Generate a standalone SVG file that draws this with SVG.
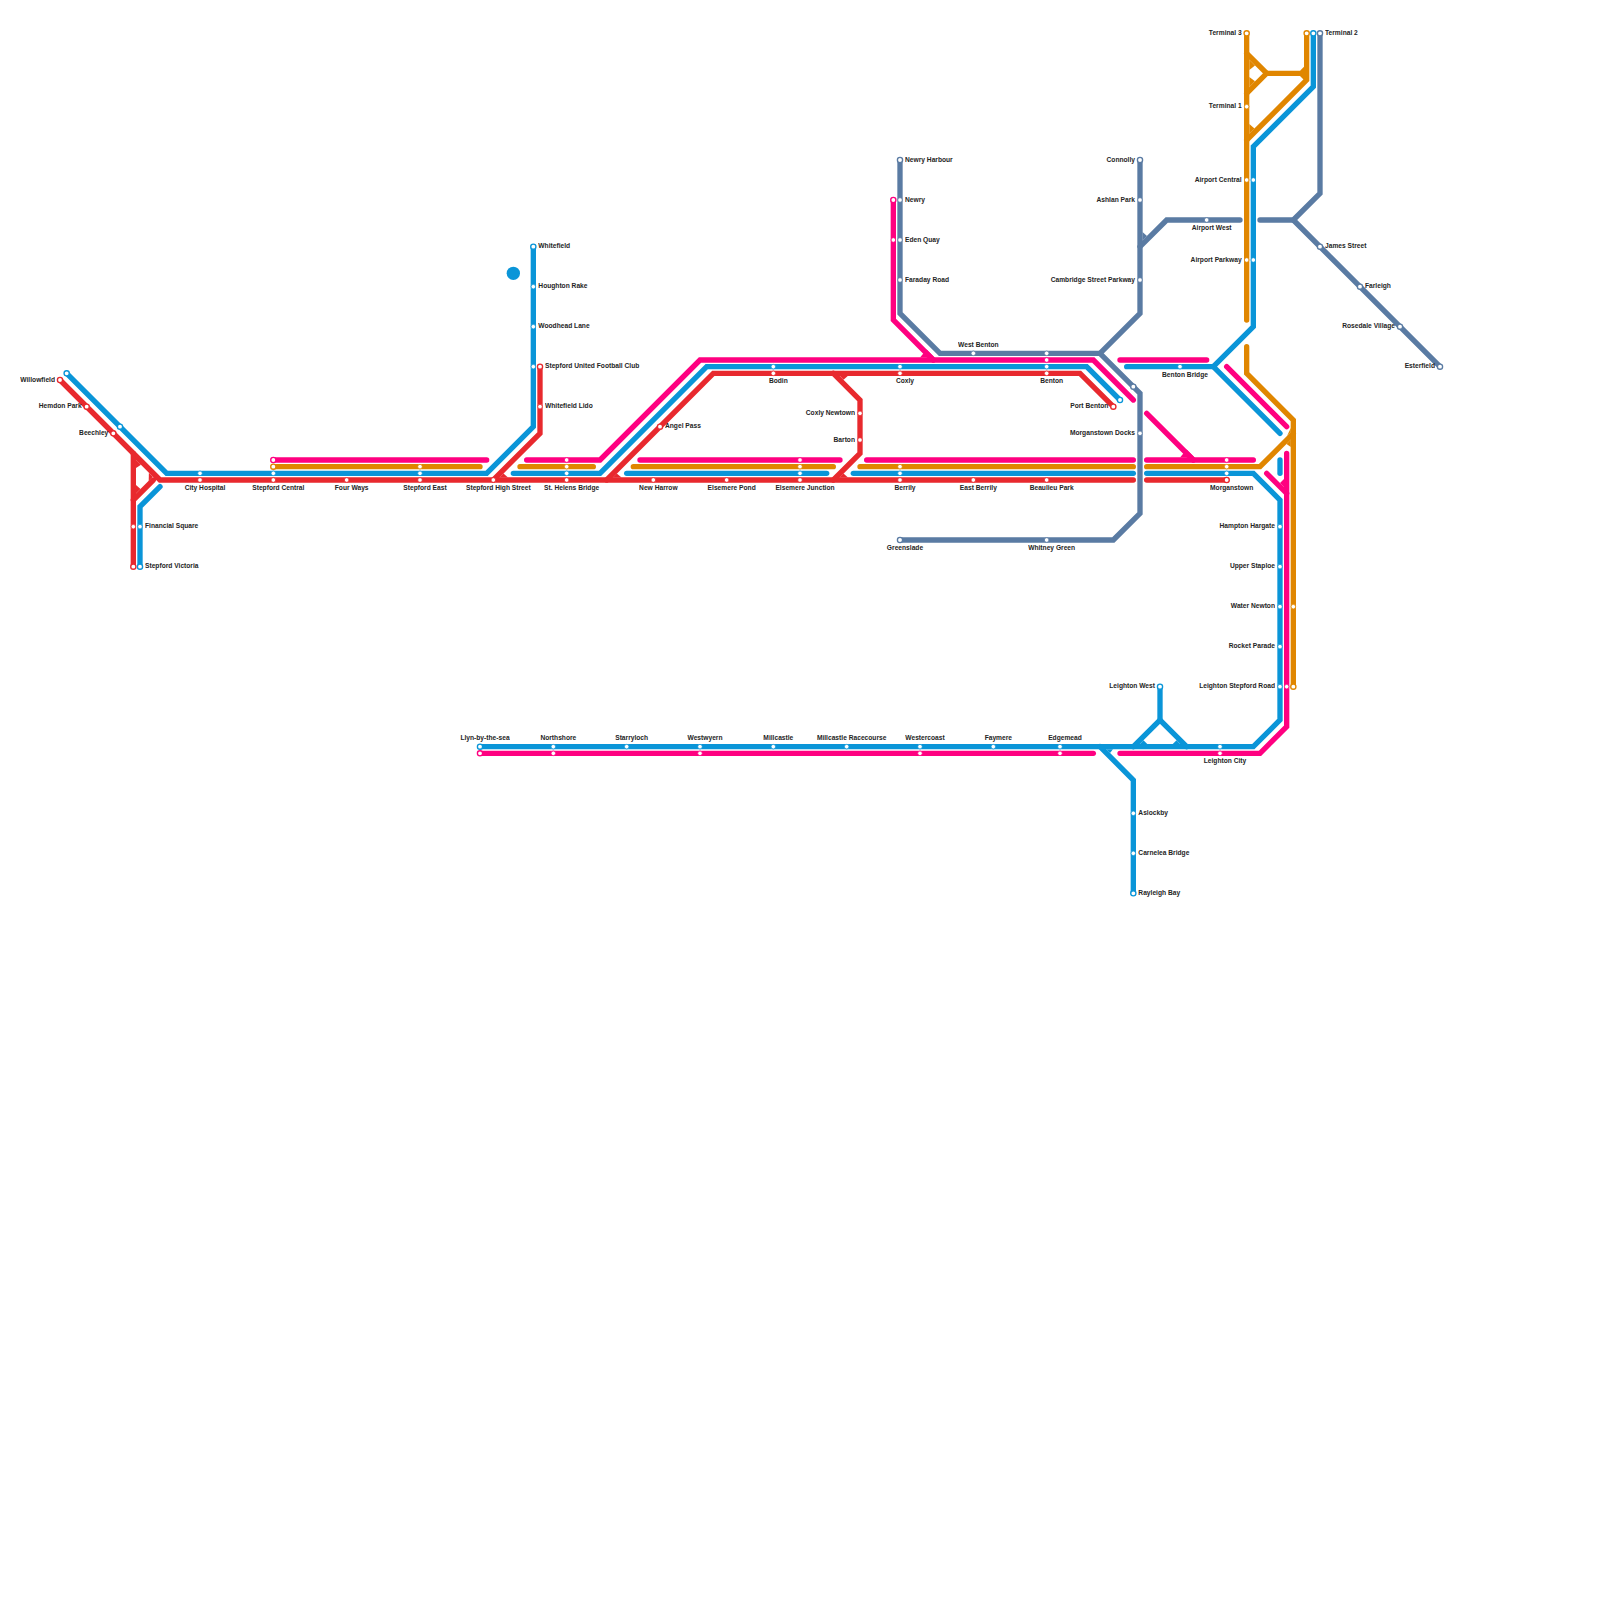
<svg xmlns="http://www.w3.org/2000/svg" width="1600" height="1600" viewBox="0 0 1600 1600">
<style>
text{font-family:"Liberation Sans",Arial,sans-serif;font-size:6.67px;fill:#222;font-weight:700;opacity:.99}
.e{text-anchor:end}.m{text-anchor:middle}
.ln{fill:none;stroke-width:5.33;stroke-linecap:round;stroke-linejoin:miter}
.R{stroke:#e8292e}.B{stroke:#0a95d8}.P{stroke:#ff0080}.O{stroke:#e08600}.S{stroke:#5a7ba3}
.fR{fill:#e8292e}.fB{fill:#0a95d8}.fP{fill:#ff0080}.fO{fill:#e08600}.fS{fill:#5a7ba3}
circle.s{fill:#fff;stroke-width:.8}
circle.t{fill:#fff;stroke-width:1.35}
</style>
<rect width="1600" height="1600" fill="#fff"/>
<g id="connectors">
<path class="ln S" d="M900 160V313.33L940 353.33H1100L1140 393.33V513.33L1113.33 540H900"/>
<path class="ln S" d="M1140 160V313.33L1100 353.33"/>
<path class="ln S" d="M1140 246.67L1166.67 220H1240"/>
<path class="ln S" d="M1260 220H1293.33L1320 193.33V33.33"/>
<path class="ln S" d="M1293.33 220L1440 366.67"/>
<path class="ln R" d="M60 380L160 480H1133.33"/>
<path class="ln R" d="M133.33 566.67V453.33"/>
<path class="ln R" d="M133.33 500L153.33 480"/>
<path class="ln R" d="M540 366.67V433.33L493.33 480"/>
<path class="ln R" d="M606.67 480L713.33 373.33H1080L1113.33 406.67"/>
<path class="ln R" d="M833.33 373.33L860 400V453.33L833.33 480"/>
<path class="ln R" d="M1146.67 480H1226.67"/>
<path class="ln B" d="M66.67 373.33L166.67 473.33H486.67L533.33 426.67V246.67"/>
<path class="ln B" d="M160 486.67L140 506.67V566.67"/>
<path class="ln B" d="M513.33 473.33H600L706.67 366.67H1086.67L1120 400"/>
<path class="ln B" d="M626.67 473.33H826.67"/>
<path class="ln B" d="M853.33 473.33H1133.33"/>
<path class="ln B" d="M1146.67 473.33H1253.33L1280 500V720L1253.33 746.67H480"/>
<path class="ln B" d="M1126.67 366.67H1213.33L1253.33 326.67V146.67L1313.33 86.67V33.33"/>
<path class="ln B" d="M1213.33 366.67L1280 433.33"/>
<path class="ln B" d="M1280 460V473.33"/>
<path class="ln B" d="M1100 746.67L1133.33 780V893.33"/>
<path class="ln B" d="M1133.33 746.67L1160 720L1186.67 746.67"/>
<path class="ln B" d="M1160 686.67V720"/>
<path class="ln P" d="M273.33 460H486.67"/>
<path class="ln P" d="M526.67 460H600L700 360H1093.33L1133.33 400"/>
<path class="ln P" d="M640 460H840"/>
<path class="ln P" d="M866.67 460H1133.33"/>
<path class="ln P" d="M1146.67 460H1253.33"/>
<path class="ln P" d="M1146.67 413.33L1193.33 460"/>
<path class="ln P" d="M1120 360H1206.67"/>
<path class="ln P" d="M893.33 200V320L933.33 360"/>
<path class="ln P" d="M1226.67 366.67L1286.67 426.67"/>
<path class="ln P" d="M1286.67 453.33V726.67L1260 753.33H1120"/>
<path class="ln P" d="M1266.67 473.33L1286.67 493.33"/>
<path class="ln P" d="M480 753.33H1093.33"/>
<path class="ln O" d="M273.33 466.67H480"/>
<path class="ln O" d="M520 466.67H593.33"/>
<path class="ln O" d="M633.33 466.67H833.33"/>
<path class="ln O" d="M860 466.67H1133.33"/>
<path class="ln O" d="M1146.67 466.67H1260L1293.33 433.33"/>
<path class="ln O" d="M1246.67 346.67V373.33L1293.33 420V686.67"/>
<path class="ln O" d="M1246.67 33.33V320"/>
<path class="ln O" d="M1246.67 53.33L1266.67 73.33L1246.67 93.33"/>
<path class="ln O" d="M1266.67 73.33H1300"/>
<path class="ln O" d="M1306.67 33.33V80L1246.67 140"/>
<polygon class="fR" points="136,459.8 136,468 141,464.8"/>
<polygon class="fR" points="136,493.6 136,485 140.5,489.1"/>
<polygon class="fR" points="152.9,476.7 148.9,472.7 148.7,480.9"/>
<polygon class="fR" points="499.5,477.5 503.5,473.6 508,477.5"/>
<polygon class="fR" points="612.8,477.5 616.8,473.6 621.5,477.5"/>
<polygon class="fR" points="839.5,477.5 843.5,473.6 848,477.5"/>
<polygon class="fR" points="839.6,375.8 848,375.8 843.5,379.7"/>
<polygon class="fP" points="920,357.5 926.67,349.6 934.6,357.5"/>
<polygon class="fP" points="1180,457.5 1186.67,449.6 1194.6,457.5"/>
<polygon class="fP" points="1284,486.9 1284,479 1280,482.9"/>
<polygon class="fB" points="1106.3,749.2 1113,749.2 1110,752.9"/>
<polygon class="fB" points="1139.6,744.2 1147.5,744.2 1143.5,740.2"/>
<polygon class="fB" points="1180.4,744.2 1172.5,744.2 1176.5,740.2"/>
<polygon class="fS" points="1142.5,232 1142.5,240.4 1147,236"/>
<polygon class="fO" points="1290.8,439.6 1290.8,447 1286.5,443.9"/>
<polygon class="fO" points="1290.8,428 1290.8,432.2 1287,435.9"/>
<polygon class="fO" points="1249.33,59.8 1249.33,70 1255,65.4"/>
<polygon class="fO" points="1249.33,86.9 1249.33,77 1255,81.2"/>
<polygon class="fO" points="1249.33,124 1249.33,133.6 1254.5,128.4"/>
<polygon class="fO" points="1300,70.67 1304,66.67 1304,80 1300,76"/>
</g>
<circle id="badge" cx="513.33" cy="273.33" r="6.67" fill="#0a95d8"/>
<g id="willowfield"><circle class="t R" cx="60" cy="380" r="2.6"/><circle class="t B" cx="66.67" cy="373.33" r="2.6"/><text class="e" x="55" y="381.5">Willowfield</text></g>
<g id="hemdon-park"><circle class="t R" cx="86.67" cy="406.67" r="2.6"/><text class="e" x="81.67" y="408">Hemdon Park</text></g>
<g id="beechley"><circle class="t R" cx="113.33" cy="433.33" r="2.6"/><circle class="t B" cx="120" cy="426.67" r="2.6"/><text class="e" x="108.33" y="435">Beechley</text></g>
<g id="financial-square"><circle class="s R" cx="133.33" cy="526.67" r="2.3"/><circle class="s B" cx="140" cy="526.67" r="2.3"/><text x="145" y="528">Financial Square</text></g>
<g id="stepford-victoria"><circle class="t R" cx="133.33" cy="566.67" r="2.6"/><circle class="t B" cx="140" cy="566.67" r="2.6"/><text x="145" y="568">Stepford Victoria</text></g>
<g id="city-hospital"><circle class="s B" cx="200" cy="473.33" r="2.3"/><circle class="s R" cx="200" cy="480" r="2.3"/><text class="m" x="205" y="490">City Hospital</text></g>
<g id="stepford-central"><circle class="t P" cx="273.33" cy="460" r="2.6"/><circle class="t O" cx="273.33" cy="466.67" r="2.6"/><circle class="s B" cx="273.33" cy="473.33" r="2.3"/><circle class="s R" cx="273.33" cy="480" r="2.3"/><text class="m" x="278.33" y="490">Stepford Central</text></g>
<g id="four-ways"><circle class="s R" cx="346.67" cy="480" r="2.3"/><text class="m" x="351.67" y="490">Four Ways</text></g>
<g id="stepford-east"><circle class="s O" cx="420" cy="466.67" r="2.3"/><circle class="s B" cx="420" cy="473.33" r="2.3"/><circle class="s R" cx="420" cy="480" r="2.3"/><text class="m" x="425" y="490">Stepford East</text></g>
<g id="stepford-high-street"><circle class="s R" cx="493.33" cy="480" r="2.3"/><text class="m" x="498.33" y="490">Stepford High Street</text></g>
<g id="st-helens-bridge"><circle class="s P" cx="566.67" cy="460" r="2.3"/><circle class="s O" cx="566.67" cy="466.67" r="2.3"/><circle class="s B" cx="566.67" cy="473.33" r="2.3"/><circle class="s R" cx="566.67" cy="480" r="2.3"/><text class="m" x="571.67" y="490">St. Helens Bridge</text></g>
<g id="new-harrow"><circle class="s R" cx="653.33" cy="480" r="2.3"/><text class="m" x="658.33" y="490">New Harrow</text></g>
<g id="elsemere-pond"><circle class="s R" cx="726.67" cy="480" r="2.3"/><text class="m" x="731.67" y="490">Elsemere Pond</text></g>
<g id="elsemere-junction"><circle class="s P" cx="800" cy="460" r="2.3"/><circle class="s O" cx="800" cy="466.67" r="2.3"/><circle class="s B" cx="800" cy="473.33" r="2.3"/><circle class="s R" cx="800" cy="480" r="2.3"/><text class="m" x="805" y="490">Elsemere Junction</text></g>
<g id="berrily"><circle class="s O" cx="900" cy="466.67" r="2.3"/><circle class="s B" cx="900" cy="473.33" r="2.3"/><circle class="s R" cx="900" cy="480" r="2.3"/><text class="m" x="905" y="490">Berrily</text></g>
<g id="east-berrily"><circle class="s R" cx="973.33" cy="480" r="2.3"/><text class="m" x="978.33" y="490">East Berrily</text></g>
<g id="beaulieu-park"><circle class="s R" cx="1046.67" cy="480" r="2.3"/><text class="m" x="1051.67" y="490">Beaulieu Park</text></g>
<g id="morganstown"><circle class="s P" cx="1226.67" cy="460" r="2.3"/><circle class="s O" cx="1226.67" cy="466.67" r="2.3"/><circle class="s B" cx="1226.67" cy="473.33" r="2.3"/><circle class="t R" cx="1226.67" cy="480" r="2.6"/><text class="m" x="1231.67" y="490">Morganstown</text></g>
<g id="whitefield"><circle class="t B" cx="533.33" cy="246.67" r="2.6"/><text x="538.33" y="248">Whitefield</text></g>
<g id="houghton-rake"><circle class="s B" cx="533.33" cy="286.67" r="2.3"/><text x="538.33" y="288">Houghton Rake</text></g>
<g id="woodhead-lane"><circle class="s B" cx="533.33" cy="326.67" r="2.3"/><text x="538.33" y="328">Woodhead Lane</text></g>
<g id="stepford-united"><circle class="s B" cx="533.33" cy="366.67" r="2.3"/><circle class="t R" cx="540" cy="366.67" r="2.6"/><text x="545" y="368">Stepford United Football Club</text></g>
<g id="whitefield-lido"><circle class="s R" cx="540" cy="406.67" r="2.3"/><text x="545" y="408">Whitefield Lido</text></g>
<g id="angel-pass"><circle class="t R" cx="660" cy="426.67" r="2.6"/><text x="665" y="428">Angel Pass</text></g>
<g id="bodin"><circle class="s B" cx="773.33" cy="366.67" r="2.3"/><circle class="s R" cx="773.33" cy="373.33" r="2.3"/><text class="m" x="778.33" y="383.33">Bodin</text></g>
<g id="coxly-newtown"><circle class="s R" cx="860" cy="413.33" r="2.3"/><text class="e" x="855" y="414.67">Coxly Newtown</text></g>
<g id="barton"><circle class="s R" cx="860" cy="440" r="2.3"/><text class="e" x="855" y="442">Barton</text></g>
<g id="newry-harbour"><circle class="t S" cx="900" cy="160" r="2.6"/><text x="905" y="162">Newry Harbour</text></g>
<g id="newry"><circle class="t P" cx="893.33" cy="200" r="2.6"/><circle class="s S" cx="900" cy="200" r="2.3"/><text x="905" y="202">Newry</text></g>
<g id="eden-quay"><circle class="s P" cx="893.33" cy="240" r="2.3"/><circle class="s S" cx="900" cy="240" r="2.3"/><text x="905" y="242">Eden Quay</text></g>
<g id="faraday-road"><circle class="s S" cx="900" cy="280" r="2.3"/><text x="905" y="282">Faraday Road</text></g>
<g id="coxly"><circle class="s B" cx="900" cy="366.67" r="2.3"/><circle class="s R" cx="900" cy="373.33" r="2.3"/><text class="m" x="905" y="383.33">Coxly</text></g>
<g id="west-benton"><circle class="s S" cx="973.33" cy="353.33" r="2.3"/><text class="m" x="978.33" y="346.5">West Benton</text></g>
<g id="benton"><circle class="s S" cx="1046.67" cy="353.33" r="2.3"/><circle class="s P" cx="1046.67" cy="360" r="2.3"/><circle class="s B" cx="1046.67" cy="366.67" r="2.3"/><circle class="s R" cx="1046.67" cy="373.33" r="2.3"/><text class="m" x="1051.67" y="383.33">Benton</text></g>
<g id="port-benton"><circle class="t R" cx="1113.33" cy="406.67" r="2.6"/><circle class="t B" cx="1120" cy="400" r="2.6"/><text class="e" x="1108.33" y="408">Port Benton</text></g>
<g id="slate-junction"><circle class="t S" cx="1133.33" cy="386.67" r="2.6"/></g>
<g id="morganstown-docks"><circle class="s S" cx="1140" cy="433.33" r="2.3"/><text class="e" x="1135" y="434.67">Morganstown Docks</text></g>
<g id="greenslade"><circle class="t S" cx="900" cy="540" r="2.6"/><text class="m" x="905" y="550">Greenslade</text></g>
<g id="whitney-green"><circle class="s S" cx="1046.67" cy="540" r="2.3"/><text class="m" x="1051.67" y="550">Whitney Green</text></g>
<g id="connolly"><circle class="t S" cx="1140" cy="160" r="2.6"/><text class="e" x="1135" y="162">Connolly</text></g>
<g id="ashlan-park"><circle class="s S" cx="1140" cy="200" r="2.3"/><text class="e" x="1135" y="202">Ashlan Park</text></g>
<g id="cambridge-street-parkway"><circle class="s S" cx="1140" cy="280" r="2.3"/><text class="e" x="1135" y="282">Cambridge Street Parkway</text></g>
<g id="airport-west"><circle class="s S" cx="1206.67" cy="220" r="2.3"/><text class="m" x="1211.67" y="230">Airport West</text></g>
<g id="benton-bridge"><circle class="s B" cx="1180" cy="366.67" r="2.3"/><text class="m" x="1185" y="376.67">Benton Bridge</text></g>
<g id="terminal-3"><circle class="t O" cx="1246.67" cy="33.33" r="2.6"/><text class="e" x="1241.67" y="34.67">Terminal 3</text></g>
<g id="terminal-1"><circle class="s O" cx="1246.67" cy="106.67" r="2.3"/><text class="e" x="1241.67" y="108">Terminal 1</text></g>
<g id="airport-central"><circle class="s O" cx="1246.67" cy="180" r="2.3"/><circle class="s B" cx="1253.33" cy="180" r="2.3"/><text class="e" x="1241.67" y="182">Airport Central</text></g>
<g id="airport-parkway"><circle class="s O" cx="1246.67" cy="260" r="2.3"/><circle class="s B" cx="1253.33" cy="260" r="2.3"/><text class="e" x="1241.67" y="262">Airport Parkway</text></g>
<g id="terminal-2"><circle class="t O" cx="1306.67" cy="33.33" r="2.6"/><circle class="t B" cx="1313.33" cy="33.33" r="2.6"/><circle class="t S" cx="1320" cy="33.33" r="2.6"/><text x="1325" y="34.67">Terminal 2</text></g>
<g id="james-street"><circle class="t S" cx="1320" cy="246.67" r="2.6"/><text x="1325" y="248">James Street</text></g>
<g id="farleigh"><circle class="t S" cx="1360" cy="286.67" r="2.6"/><text x="1365" y="288">Farleigh</text></g>
<g id="rosedale-village"><circle class="t S" cx="1400" cy="326.67" r="2.6"/><text class="e" x="1395" y="328">Rosedale Village</text></g>
<g id="esterfield"><circle class="t S" cx="1440" cy="366.67" r="2.6"/><text class="e" x="1435" y="368">Esterfield</text></g>
<g id="hampton-hargate"><circle class="s B" cx="1280" cy="526.67" r="2.3"/><text class="e" x="1275" y="528">Hampton Hargate</text></g>
<g id="upper-staploe"><circle class="s B" cx="1280" cy="566.67" r="2.3"/><text class="e" x="1275" y="568">Upper Staploe</text></g>
<g id="water-newton"><circle class="s B" cx="1280" cy="606.67" r="2.3"/><circle class="s O" cx="1293.33" cy="606.67" r="2.3"/><text class="e" x="1275" y="608">Water Newton</text></g>
<g id="rocket-parade"><circle class="s B" cx="1280" cy="646.67" r="2.3"/><text class="e" x="1275" y="648">Rocket Parade</text></g>
<g id="leighton-stepford-road"><circle class="s B" cx="1280" cy="686.67" r="2.3"/><circle class="s P" cx="1286.67" cy="686.67" r="2.3"/><circle class="t O" cx="1293.33" cy="686.67" r="2.6"/><text class="e" x="1275" y="688">Leighton Stepford Road</text></g>
<g id="leighton-west"><circle class="t B" cx="1160" cy="686.67" r="2.6"/><text class="e" x="1155" y="688">Leighton West</text></g>
<g id="leighton-city"><circle class="s B" cx="1220" cy="746.67" r="2.3"/><circle class="s P" cx="1220" cy="753.33" r="2.3"/><text class="m" x="1225" y="763.33">Leighton City</text></g>
<g id="aslockby"><circle class="s B" cx="1133.33" cy="813.33" r="2.3"/><text x="1138.33" y="814.67">Aslockby</text></g>
<g id="carnelea-bridge"><circle class="s B" cx="1133.33" cy="853.33" r="2.3"/><text x="1138.33" y="854.67">Carnelea Bridge</text></g>
<g id="rayleigh-bay"><circle class="t B" cx="1133.33" cy="893.33" r="2.6"/><text x="1138.33" y="894.67">Rayleigh Bay</text></g>
<g id="llyn-by-the-sea"><circle class="t B" cx="480" cy="746.67" r="2.6"/><circle class="t P" cx="480" cy="753.33" r="2.6"/><text class="m" x="485" y="739.5">Llyn-by-the-sea</text></g>
<g id="northshore"><circle class="s B" cx="553.33" cy="746.67" r="2.3"/><circle class="s P" cx="553.33" cy="753.33" r="2.3"/><text class="m" x="558.33" y="739.5">Northshore</text></g>
<g id="starryloch"><circle class="s B" cx="626.67" cy="746.67" r="2.3"/><text class="m" x="631.67" y="739.5">Starryloch</text></g>
<g id="westwyern"><circle class="s B" cx="700" cy="746.67" r="2.3"/><circle class="s P" cx="700" cy="753.33" r="2.3"/><text class="m" x="705" y="739.5">Westwyern</text></g>
<g id="millcastle"><circle class="s B" cx="773.33" cy="746.67" r="2.3"/><text class="m" x="778.33" y="739.5">Millcastle</text></g>
<g id="millcastle-racecourse"><circle class="s B" cx="846.67" cy="746.67" r="2.3"/><text class="m" x="851.67" y="739.5">Millcastle Racecourse</text></g>
<g id="westercoast"><circle class="s B" cx="920" cy="746.67" r="2.3"/><circle class="s P" cx="920" cy="753.33" r="2.3"/><text class="m" x="925" y="739.5">Westercoast</text></g>
<g id="faymere"><circle class="s B" cx="993.33" cy="746.67" r="2.3"/><text class="m" x="998.33" y="739.5">Faymere</text></g>
<g id="edgemead"><circle class="s B" cx="1060" cy="746.67" r="2.3"/><circle class="s P" cx="1060" cy="753.33" r="2.3"/><text class="m" x="1065" y="739.5">Edgemead</text></g>
</svg>
